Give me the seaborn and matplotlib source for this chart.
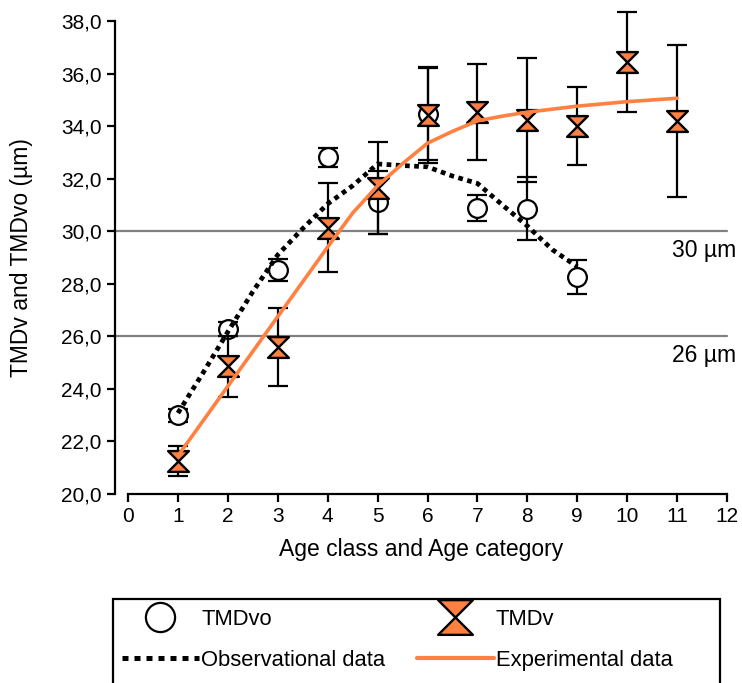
import matplotlib
matplotlib.use("Agg")
import numpy as np
import pandas as pd
import seaborn as sns
import matplotlib.pyplot as plt
from matplotlib.path import Path
from matplotlib.lines import Line2D
from matplotlib.patches import Rectangle
from matplotlib.ticker import FuncFormatter

# ---------------- data ----------------
age_vo = [1, 2, 3, 4, 5, 6, 7, 8, 9]
tmdvo_mean = [23.0, 26.28, 28.52, 32.82, 31.1, 34.45, 30.88, 30.85, 28.26]
tmdvo_err = [0.25, 0.28, 0.41, 0.36, 1.2, 1.75, 0.5, 1.2, 0.65]

age_v = [1, 2, 3, 4, 5, 6, 7, 8, 9, 10, 11]
tmdv_mean = [21.25, 24.86, 25.6, 30.14, 31.64, 34.42, 34.54, 34.23, 34.0, 36.44, 34.2]
tmdv_err = [0.58, 1.17, 1.48, 1.69, 1.75, 1.83, 1.83, 2.37, 1.48, 1.9, 2.9]

obs_x = [1, 1.5, 2, 2.5, 3, 3.5, 4, 4.5, 5, 5.5, 6, 6.5, 7, 7.5, 8, 8.5, 9]
obs_y = [23.08, 24.6, 26.17, 27.7, 29.1, 30.1, 31.04, 31.73, 32.56, 32.5, 32.45,
         32.1, 31.82, 31.0, 30.2, 29.3, 28.65]

exp_x = [1, 2, 3, 4, 4.5, 5, 5.5, 6, 6.5, 7, 7.5, 8, 9, 10, 11]
exp_y = [21.45, 24.1, 26.75, 29.4, 30.69, 31.73, 32.57, 33.35, 33.8, 34.2, 34.38,
         34.53, 34.76, 34.93, 35.06]

ref_levels = [30, 26]
ref_labels = ["30 µm", "26 µm"]

x_ticks = list(range(0, 13))
y_ticks = [20, 22, 24, 26, 28, 30, 32, 34, 36, 38]

legend_labels = ["TMDvo", "Observational data", "TMDv", "Experimental data"]
x_label = "Age class and Age category"
y_label = "TMDv and TMDvo (µm)"

ORANGE = "#FF8040"

# ---------------- style ----------------
sns.set_theme(style="ticks")
plt.rcParams["font.family"] = ["Liberation Sans", "DejaVu Sans"]
plt.rcParams["text.color"] = "black"
plt.rcParams["axes.labelcolor"] = "black"

fig = plt.figure(figsize=(7.42, 6.83), dpi=100)
ax = fig.add_axes([128 / 742, 1 - 494 / 683, (727 - 128) / 742, (494 - 21) / 683])
ax.set_xlim(0, 12)
ax.set_ylim(20, 38)

# reference lines
for lvl, lab in zip(ref_levels, ref_labels):
    ax.axhline(lvl, xmin=-13 / 599, xmax=1, color="#808080", lw=1.6, clip_on=False, zorder=1)
    ax.text(10.9, lvl - 0.72, lab, fontsize=16.5, ha="left", va="center", clip_on=False)

# error bars
for xs, ys, es, z in [(age_vo, tmdvo_mean, tmdvo_err, 2), (age_v, tmdv_mean, tmdv_err, 3)]:
    eb = ax.errorbar(xs, ys, yerr=es, fmt="none", ecolor="black", elinewidth=1.6,
                     capsize=7.5, capthick=1.6, zorder=z)
    for a in list(eb.lines[1]) + list(eb.lines[2]):
        a.set_clip_on(False)

# markers
hourglass = Path([(-1, 1), (1, 1), (-1, -1), (1, -1), (-1, 1)],
                 [Path.MOVETO, Path.LINETO, Path.LINETO, Path.LINETO, Path.CLOSEPOLY])

df_vo = pd.DataFrame({"age": age_vo, "val": tmdvo_mean})
df_v = pd.DataFrame({"age": age_v, "val": tmdv_mean})
sns.scatterplot(data=df_vo, x="age", y="val", marker="o", s=13.5 ** 2, color="white",
                edgecolor="black", linewidth=1.6, zorder=2.5, ax=ax, legend=False, clip_on=False)
sns.scatterplot(data=df_v, x="age", y="val", marker=hourglass, s=15 ** 2, color=ORANGE,
                edgecolor="black", linewidth=1.7, zorder=3.5, ax=ax, legend=False, clip_on=False)

# fitted lines
sns.lineplot(x=obs_x, y=obs_y, color="black", lw=3.4, linestyle=(0, (1, 0.95)),
             sort=False, estimator=None, ax=ax, zorder=5)
sns.lineplot(x=exp_x, y=exp_y, color=ORANGE, lw=2.6, sort=False, estimator=None,
             ax=ax, zorder=5)

# axes
ax.set_xticks(x_ticks)
ax.set_yticks(y_ticks)
ax.yaxis.set_major_formatter(FuncFormatter(lambda v, p: f"{v:.1f}".replace(".", ",")))
ax.tick_params(axis="both", direction="out", length=5.5, width=1.6, color="black",
               labelsize=15, labelcolor="black", pad=4)
sns.despine(ax=ax)
ax.spines["left"].set_position(("outward", 9.4))
for s in ["left", "bottom"]:
    ax.spines[s].set_linewidth(1.6)
    ax.spines[s].set_color("black")

ax.set_xlabel(x_label, fontsize=16.5, color="black")
ax.set_ylabel(y_label, fontsize=16.5, color="black")
ax.xaxis.set_label_coords(0.489, -0.093)
ax.yaxis.set_label_coords(-0.158, 0.5)

# legend
h_vo = Line2D([], [], marker="o", ms=21, mfc="white", mec="black", mew=1.6, ls="none")
h_obs = Line2D([], [], color="black", lw=3.6, ls=(0, (1.2, 1.2)))
h_v = Line2D([], [], marker=hourglass, ms=25, mfc=ORANGE, mec="black", mew=1.7, ls="none")
h_exp = Line2D([], [], color=ORANGE, lw=3)
leg = fig.legend([h_vo, h_obs, h_v, h_exp], legend_labels, ncol=2, loc="upper left",
                 bbox_to_anchor=(122 / 742, 1 - 609 / 683), frameon=False, fontsize=15.8,
                 handlelength=3.5, handletextpad=0.1, columnspacing=1.45, labelspacing=0.9,
                 borderpad=0, borderaxespad=0)
for t in leg.get_texts():
    t.set_color("black")
fig.add_artist(Rectangle((113 / 742, -0.05), (720 - 113) / 742, 0.05 + 1 - 599 / 683,
                         transform=fig.transFigure, fill=False, lw=1.6, ec="black"))

fig.savefig("out.png", dpi=100)
